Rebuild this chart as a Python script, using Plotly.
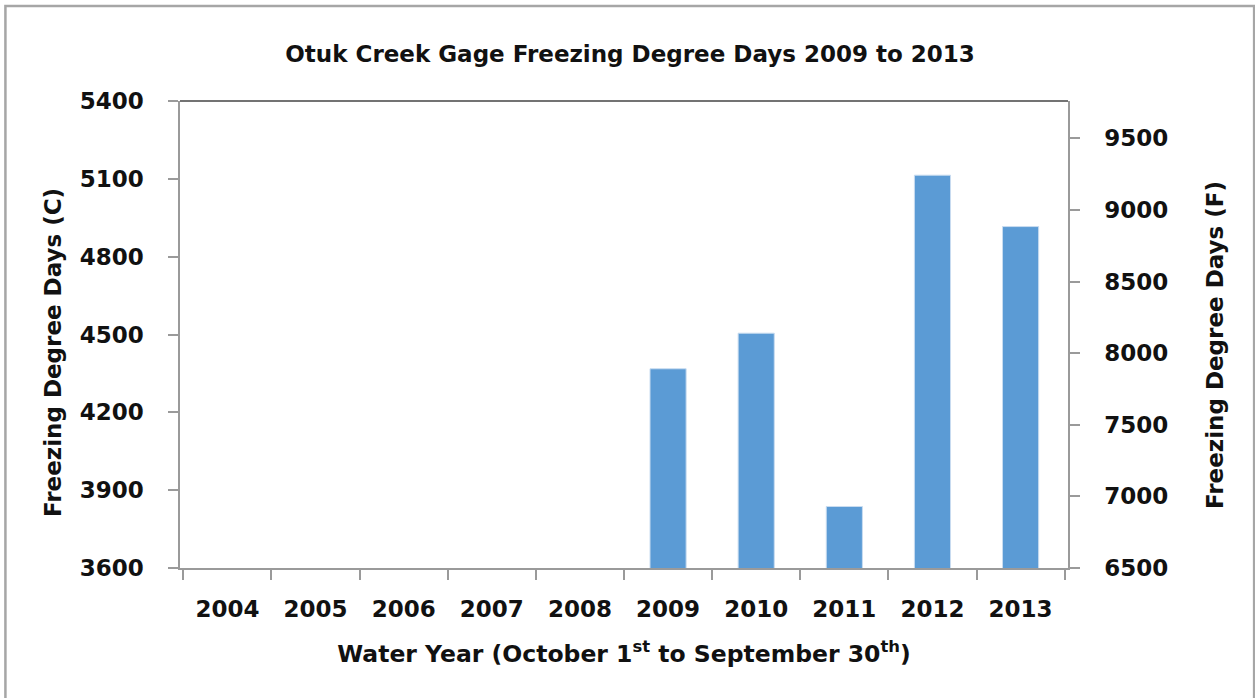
import plotly.graph_objects as go

# ---- data ----
years = ["2004", "2005", "2006", "2007", "2008", "2009", "2010", "2011", "2012", "2013"]
fdd_c = [None, None, None, None, None, 4368, 4505, 3837, 5114, 4916]
left_ticks = [3600, 3900, 4200, 4500, 4800, 5100, 5400]
right_ticks = [6500, 7000, 7500, 8000, 8500, 9000, 9500]
fdd_f = [None if v is None else v * 1.8 for v in fdd_c]

title_text = "Otuk Creek Gage Freezing Degree Days 2009 to 2013"
x_title = "Water Year (October 1<sup>st</sup> to September 30<sup>th</sup>)"
y_title = "Freezing Degree Days (C)"
y2_title = "Freezing Degree Days (F)"

FONT = "DejaVu Sans"
TXT = "#111111"
AXIS_GRAY = "#9a9a9a"

fig = go.Figure()
fig.add_trace(go.Bar(
    x=years, y=fdd_c,
    marker=dict(color="#5b9bd5", line=dict(color="#c9dcf0", width=1)),
    showlegend=False, hoverinfo="x+y",
))
# invisible companion trace so the Fahrenheit axis is drawn
fig.add_trace(go.Scatter(
    x=years, y=fdd_f, yaxis="y2", mode="markers",
    marker=dict(opacity=0, size=1), showlegend=False, hoverinfo="skip",
))

title_font = dict(family=FONT, size=23, color=TXT, weight="bold")

fig.update_layout(
    width=1255, height=698,
    margin=dict(l=180, r=187, t=101, b=130),
    paper_bgcolor="white", plot_bgcolor="white",
    bargap=0.59,
    title=dict(text=title_text, x=0.502, xanchor="center", y=0.922, yanchor="middle",
               font=dict(family=FONT, size=23, color=TXT, weight="bold")),
    font=dict(family=FONT, color=TXT),
    xaxis=dict(
        type="category", categoryorder="array", categoryarray=years,
        showline=True, linecolor=AXIS_GRAY, linewidth=1.5,
        ticks="outside", tickson="boundaries", ticklen=10, tickcolor=AXIS_GRAY, tickwidth=1.5,
        tickfont=dict(family=FONT, size=23, color=TXT, weight="bold"),
        ticklabelstandoff=20,
        title=dict(text=x_title, font=dict(family=FONT, size=23.5, color=TXT, weight="bold"),
                   standoff=24),
        showgrid=False, zeroline=False,
    ),
    yaxis=dict(
        range=[3600, 5400], tickvals=left_ticks,
        showline=True, linecolor=AXIS_GRAY, linewidth=1.5,
        ticks="outside", ticklen=10, tickcolor=AXIS_GRAY, tickwidth=1.5,
        tickfont=dict(family=FONT, size=23, color=TXT, weight="bold"),
        ticklabelstandoff=20,
        showgrid=False, zeroline=False,
    ),
    yaxis2=dict(
        overlaying="y", side="right",
        range=[6500, 9760], tickvals=right_ticks,
        showline=True, linecolor=AXIS_GRAY, linewidth=1.5,
        ticks="outside", ticklen=10, tickcolor=AXIS_GRAY, tickwidth=1.5,
        tickfont=dict(family=FONT, size=23, color=TXT, weight="bold"),
        ticklabelstandoff=20,
        showgrid=False, zeroline=False,
    ),
    annotations=[
        dict(text=y_title, xref="paper", yref="paper", x=-0.143, y=0.4604,
             xanchor="center", yanchor="middle", textangle=-90, showarrow=False,
             font=title_font),
        dict(text=y2_title, xref="paper", yref="paper", x=1.1655, y=0.4775,
             xanchor="center", yanchor="middle", textangle=-90, showarrow=False,
             font=title_font),
    ],
    shapes=[
        # dark top edge of the plot area
        dict(type="line", xref="paper", yref="paper", x0=0, x1=1, y0=1, y1=1,
             line=dict(color="#444444", width=1.5)),
        # outer chart frame (open at the bottom)
        dict(type="path", xref="paper", yref="paper",
             path="M -0.1966,-0.30 L -0.1966,1.2033 L 1.2096,1.2033 L 1.2096,-0.30",
             line=dict(color="#a6a6a6", width=2.5)),
    ],
)

fig.write_html(
    "out.html",
    config={"displayModeBar": False},
    post_script="document.body.style.margin='0px';document.body.style.overflow='hidden';",
)
